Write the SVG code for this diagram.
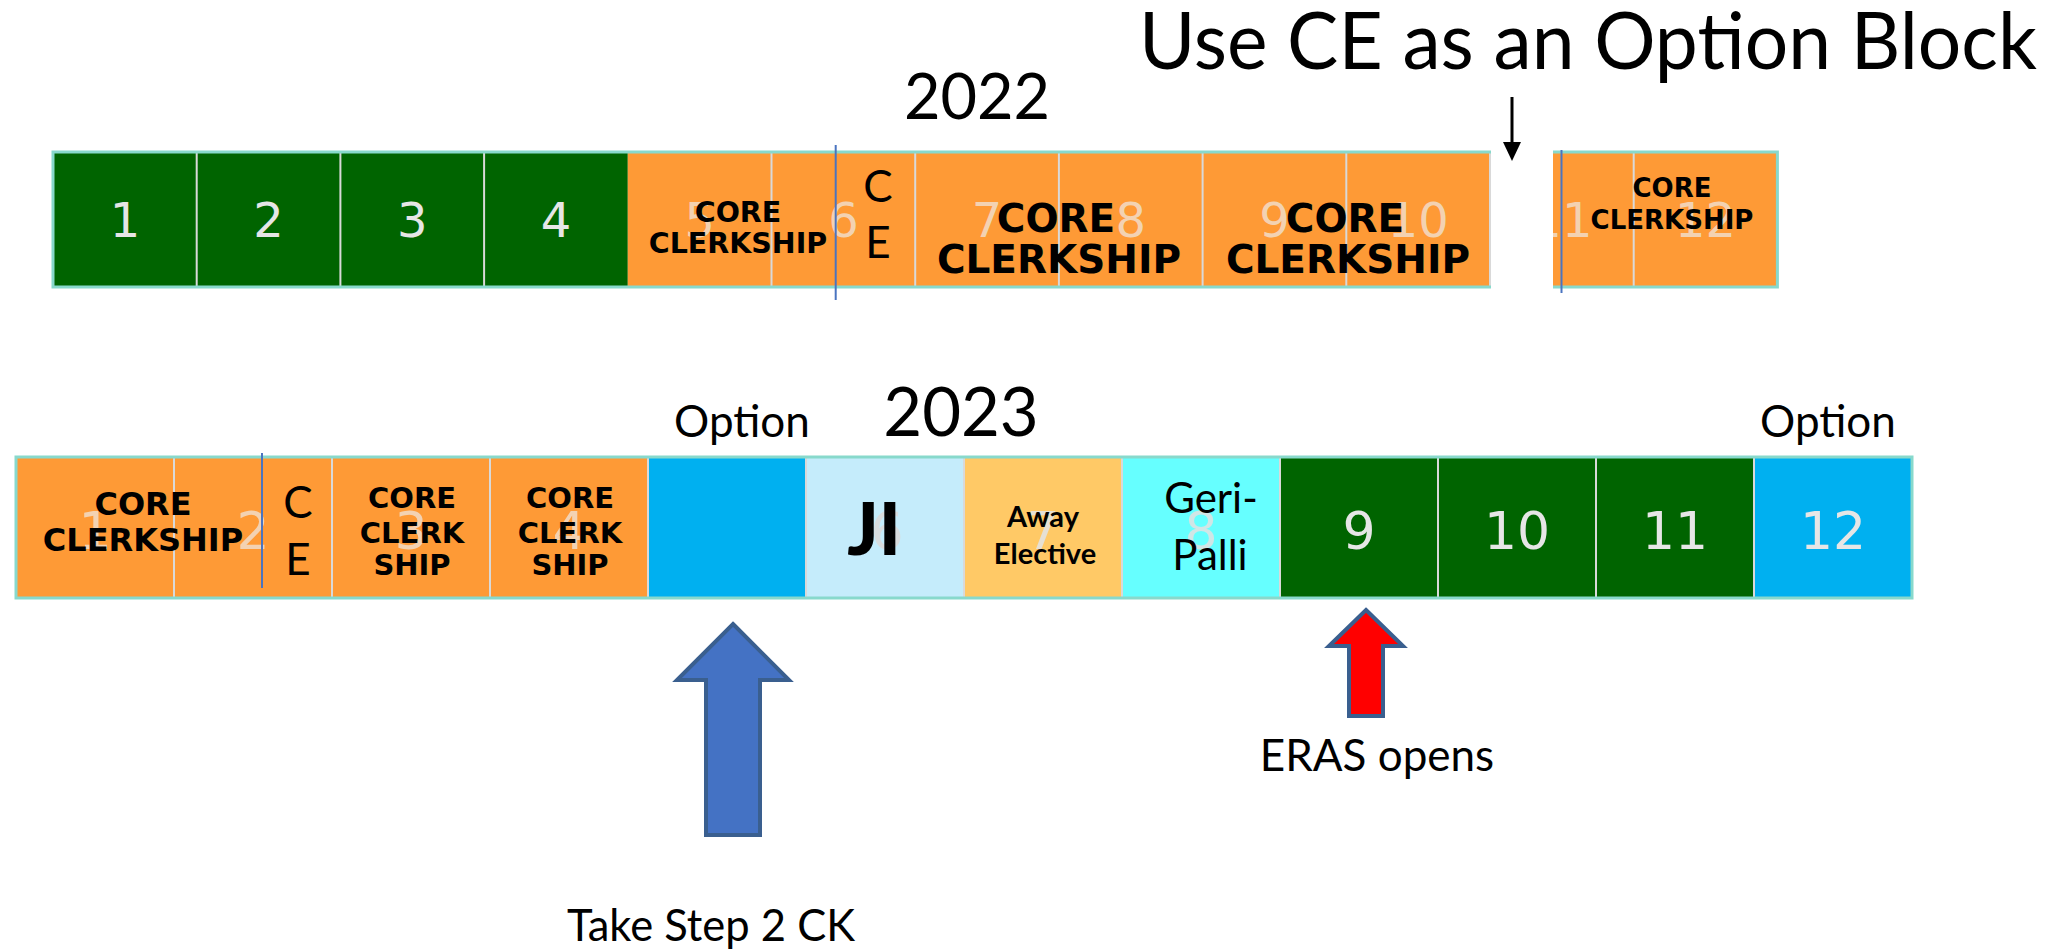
<svg xmlns="http://www.w3.org/2000/svg" width="2072" height="950" viewBox="0 0 2072 950">
<defs>
<style>
.or{fill:#fe9a36}.gr{fill:#006400}.bl{fill:#00b0f0}
.div{stroke:#d9d9d9;stroke-width:2}
.bord{fill:none;stroke:#88d9cc;stroke-width:3}
.num{font-family:"DejaVu Sans",Verdana,sans-serif;text-anchor:middle}
.nw{fill:#e6e6e6}.no{fill:#f3d2b2}
.bold{font-family:"DejaVu Sans",Verdana,sans-serif;font-weight:bold;fill:#000;text-anchor:middle}
.cal{font-family:Lato,"Open Sans",sans-serif;fill:#000;text-anchor:middle}
.vl{stroke:#4a74c0;stroke-width:2}
</style>
</defs>
<rect width="2072" height="950" fill="#fff"/>

<text x="1139" y="69" font-family="Lato, 'Open Sans', sans-serif" font-size="79" fill="#000" textLength="898" lengthAdjust="spacingAndGlyphs">Use CE as an Option Block</text>
<text class="cal" x="977" y="119" font-size="63">2022</text>

<g id="bar2022">
<rect class="gr" x="53" y="152" width="574.8" height="135"/>
<rect class="or" x="627.8" y="152" width="1149.6" height="135"/>
<g class="div">
<line x1="196.7" y1="153" x2="196.7" y2="286"/><line x1="340.4" y1="153" x2="340.4" y2="286"/>
<line x1="484.1" y1="153" x2="484.1" y2="286"/><line x1="771.5" y1="153" x2="771.5" y2="286"/>
<line x1="915.2" y1="153" x2="915.2" y2="286"/><line x1="1058.9" y1="153" x2="1058.9" y2="286"/>
<line x1="1202.6" y1="153" x2="1202.6" y2="286"/><line x1="1346.3" y1="153" x2="1346.3" y2="286"/>
<line x1="1490" y1="153" x2="1490" y2="286"/><line x1="1633.7" y1="153" x2="1633.7" y2="286"/>
</g>
<rect class="bord" x="53" y="152" width="1724.4" height="135"/>
<g font-size="48">
<text class="num nw" x="124.9" y="237">1</text><text class="num nw" x="268.6" y="237">2</text>
<text class="num nw" x="412.3" y="237">3</text><text class="num nw" x="556" y="237">4</text>
<text class="num no" x="699.7" y="237">5</text><text class="num no" x="843.4" y="237">6</text>
<text class="num no" x="987.1" y="237">7</text><text class="num no" x="1130.8" y="237">8</text>
<text class="num no" x="1274.5" y="237">9</text><text class="num no" x="1418.2" y="237">10</text>
<text class="num no" x="1561.9" y="237">11</text><text class="num no" x="1705.6" y="237">12</text>
</g>
<rect x="1491" y="145" width="62" height="150" fill="#fff"/>
<line class="vl" x1="835.7" y1="145" x2="835.7" y2="300"/>
<line class="vl" x1="1561.5" y1="150" x2="1561.5" y2="293"/>
</g>

<g id="top-core-a">
<text class="bold" x="738" y="222" font-size="28.5">CORE</text>
<text class="bold" x="738" y="253" font-size="28.5">CLERKSHIP</text>
</g>
<g id="top-ce">
<text class="cal" x="878" y="202" font-size="44">C</text>
<text class="cal" x="878" y="258" font-size="44">E</text>
</g>
<g id="top-core-b">
<text class="bold" x="1056" y="232" font-size="39">CORE</text>
<text class="bold" x="1059" y="273" font-size="39">CLERKSHIP</text>
</g>
<g id="top-core-c">
<text class="bold" x="1345" y="232" font-size="39">CORE</text>
<text class="bold" x="1348" y="273" font-size="39">CLERKSHIP</text>
</g>
<g id="top-core-d">
<text class="bold" x="1672" y="197" font-size="26">CORE</text>
<text class="bold" x="1672" y="229" font-size="26">CLERKSHIP</text>
</g>

<text class="cal" x="961" y="436" font-size="67">2023</text>
<text class="cal" x="742" y="437" font-size="44">Option</text>
<text class="cal" x="1828" y="437" font-size="44">Option</text>

<g id="bar2023">
<rect class="or" x="16" y="457" width="632" height="141"/>
<rect class="bl" x="648" y="457" width="158" height="141"/>
<rect x="806" y="457" width="158" height="141" fill="#c5ecfb"/>
<rect x="964" y="457" width="158" height="141" fill="#ffc966"/>
<rect x="1122" y="457" width="158" height="141" fill="#66ffff"/>
<rect class="gr" x="1280" y="457" width="474" height="141"/>
<rect class="bl" x="1754" y="457" width="158" height="141"/>
<g class="div">
<line x1="174" y1="458" x2="174" y2="597"/><line x1="332" y1="458" x2="332" y2="597"/>
<line x1="490" y1="458" x2="490" y2="597"/><line x1="648" y1="458" x2="648" y2="597"/>
<line x1="806" y1="458" x2="806" y2="597"/><line x1="964" y1="458" x2="964" y2="597"/>
<line x1="1122" y1="458" x2="1122" y2="597"/><line x1="1280" y1="458" x2="1280" y2="597"/>
<line x1="1438" y1="458" x2="1438" y2="597"/><line x1="1596" y1="458" x2="1596" y2="597"/>
<line x1="1754" y1="458" x2="1754" y2="597"/>
</g>
<rect class="bord" x="16" y="457" width="1896" height="141"/>
<g font-size="52">
<text class="num no" x="95" y="549">1</text><text class="num no" x="253" y="549">2</text>
<text class="num no" x="411" y="549">3</text><text class="num no" x="569" y="549">4</text>
<text class="num" x="887" y="549" fill="#d8dcde">6</text>
<text class="num" x="1043" y="549" fill="#e6e0d4">7</text>
<text class="num" x="1201" y="549" fill="#d0e6e6">8</text>
<text class="num nw" x="1359" y="549">9</text><text class="num nw" x="1517" y="549">10</text>
<text class="num nw" x="1675" y="549">11</text><text class="num nw" x="1833" y="549">12</text>
</g>
<line class="vl" x1="262" y1="453" x2="262" y2="588"/>
</g>

<g id="bot-core-a">
<text class="bold" x="143" y="515" font-size="32">CORE</text>
<text class="bold" x="143" y="551" font-size="32">CLERKSHIP</text>
</g>
<g id="bot-ce">
<text class="cal" x="298" y="518" font-size="44">C</text>
<text class="cal" x="298" y="575" font-size="44">E</text>
</g>
<g id="bot-core-3">
<text class="bold" x="412" y="508" font-size="29">CORE</text>
<text class="bold" x="412" y="543" font-size="29">CLERK</text>
<text class="bold" x="412" y="575" font-size="29">SHIP</text>
</g>
<g id="bot-core-4">
<text class="bold" x="570" y="508" font-size="29">CORE</text>
<text class="bold" x="570" y="543" font-size="29">CLERK</text>
<text class="bold" x="570" y="575" font-size="29">SHIP</text>
</g>
<g id="ji"><text class="cal" x="874" y="555" font-size="73" font-weight="900">JI</text></g>
<g id="away">
<text class="cal" x="1043" y="527" font-size="29" font-weight="bold">Away</text>
<text class="cal" x="1045" y="564" font-size="29" font-weight="bold">Elective</text>
</g>
<g id="geri">
<text class="cal" x="1211" y="513" font-size="42">Geri-</text>
<text class="cal" x="1210" y="570" font-size="42">Palli</text>
</g>

<g id="connectors">
<line x1="1512" y1="97" x2="1512" y2="146" stroke="#000" stroke-width="3"/>
<polygon points="1503,142 1521,142 1512,161" fill="#000"/>
<polygon points="733,624 789,680 760,680 760,835 706,835 706,680 677,680" fill="#4472c4" stroke="#3a5f8f" stroke-width="4"/>
<polygon points="1366,610 1403,646 1383,646 1383,716 1349,716 1349,646 1329,646" fill="#ff0000" stroke="#3a5f8f" stroke-width="4"/>
</g>

<text class="cal" x="1377" y="771" font-size="44">ERAS opens</text>
<text class="cal" x="711" y="941" font-size="43.5">Take Step 2 CK</text>
</svg>
